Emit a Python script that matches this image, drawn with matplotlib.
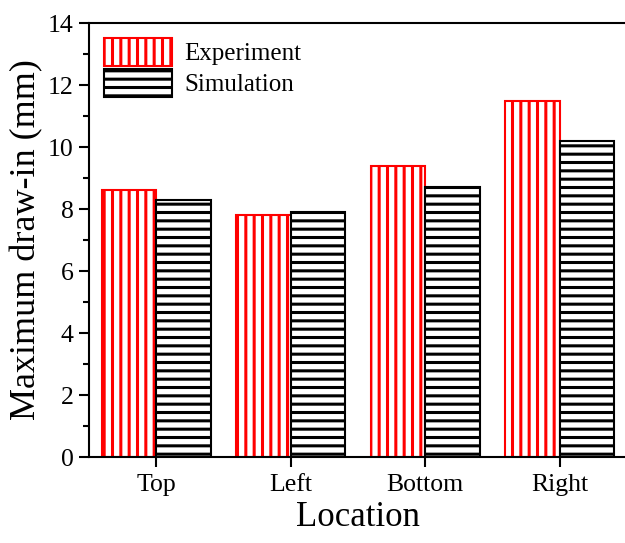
import matplotlib
matplotlib.use("Agg")
import matplotlib.pyplot as plt
import numpy as np
from matplotlib.ticker import MultipleLocator

locations  = ["Top", "Left", "Bottom", "Right"]
experiment = [8.6, 7.8, 9.4, 11.5]
simulation = [8.3, 7.9, 8.7, 10.2]

plt.rcParams["font.family"] = ["Liberation Serif", "DejaVu Serif"]
plt.rcParams["hatch.linewidth"] = 2.2

fig = plt.figure(figsize=(6.25, 5.43), dpi=100)
ax = fig.add_axes([89 / 625, 86 / 543, 538 / 625, 434 / 543])

x = np.arange(len(locations))
width = 0.405

# paired bars: red vertical hatch for measured, black horizontal hatch for FE
ax.bar(x - width / 2, experiment, width, facecolor="white", edgecolor="red",
       linewidth=1.5, hatch="||", label="Experiment")
ax.bar(x + width / 2, simulation, width, facecolor="white", edgecolor="black",
       linewidth=1.5, hatch="--", label="Simulation")

ax.set_xlim(-0.5, 3.5)
ax.set_ylim(0, 14)
ax.yaxis.set_major_locator(MultipleLocator(2))
ax.yaxis.set_minor_locator(MultipleLocator(1))
ax.set_xticks(x)
ax.set_xticklabels(locations)

ax.tick_params(axis="both", labelsize=18.5, width=1.5, length=7, direction="out")
ax.tick_params(axis="y", which="minor", width=1.5, length=4.5)
ax.tick_params(axis="y", pad=4)
ax.tick_params(axis="x", pad=5)
for s in ax.spines.values():
    s.set_linewidth(1.5)

ax.set_xlabel("Location", fontsize=25, labelpad=4)
ax.set_ylabel("Maximum draw-in (mm)", fontsize=26, labelpad=3)

ax.legend(loc="upper left", frameon=False, fontsize=18,
          handlelength=2.7, handleheight=1.36, labelspacing=0.1,
          handletextpad=0.5, borderaxespad=0.2, borderpad=0.4)

fig.savefig("out.png", dpi=100)
